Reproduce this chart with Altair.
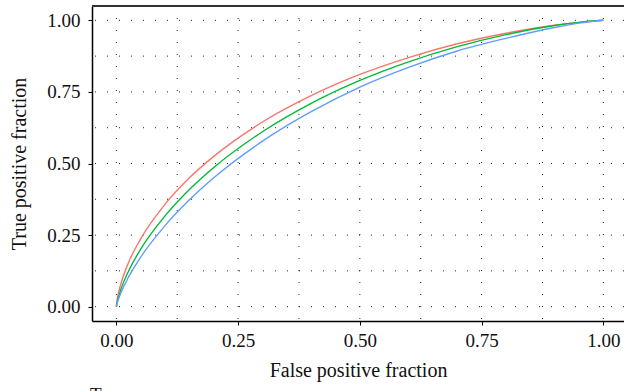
import altair as alt
import pandas as pd

# False positive fraction grid (read positions) and true positive fractions per curve
fpr = [0, 0.002, 0.005, 0.01, 0.025, 0.05, 0.1, 0.15, 0.2, 0.3, 0.4, 0.5, 0.6, 0.7, 0.8, 0.9, 0.95, 1.0]
tpr_red = [0, 0.028, 0.053, 0.084, 0.154, 0.237, 0.358, 0.450, 0.525, 0.645, 0.737, 0.811, 0.870, 0.918, 0.955, 0.983, 0.993, 1.0]
tpr_green = [0, 0.019, 0.037, 0.064, 0.124, 0.201, 0.317, 0.409, 0.486, 0.611, 0.710, 0.790, 0.855, 0.908, 0.950, 0.982, 0.993, 1.0]
tpr_blue = [0, 0.014, 0.029, 0.051, 0.103, 0.173, 0.283, 0.373, 0.450, 0.578, 0.681, 0.767, 0.836, 0.893, 0.937, 0.975, 0.990, 1.0]
series = ["Type 1", "Type 2", "Type 3"]
colors = ["#F8766D", "#00BA38", "#619CFF"]

grid_vals = [0, 0.125, 0.25, 0.375, 0.5, 0.625, 0.75, 0.875, 1.0]
tick_vals = [0, 0.25, 0.5, 0.75, 1.0]

rows = []
for name, vals in zip(series, [tpr_red, tpr_green, tpr_blue]):
    for f, t in zip(fpr, vals):
        rows.append({"fpr": f, "tpr": t, "series": name})
df = pd.DataFrame(rows)
grid_df = pd.DataFrame({"g": grid_vals})

FONT = "Liberation Serif"
W, H = 532, 315
xscale = alt.Scale(domain=[-0.05, 1.0424], nice=False, zero=False)
yscale = alt.Scale(domain=[-0.05, 1.05], nice=False, zero=False)

xaxis = alt.Axis(title="False positive fraction", values=tick_vals, format=".2f",
                 grid=False, tickSize=4, labelPadding=6, titlePadding=10)
yaxis = alt.Axis(title="True positive fraction", values=tick_vals, format=".2f",
                 grid=False, tickSize=4, labelPadding=8, titlePadding=17)

vgrid = alt.Chart(grid_df).mark_rule(color="#222222", strokeWidth=1, strokeDash=[1, 11]).encode(
    x=alt.X("g:Q", scale=xscale, axis=xaxis)
)
hgrid = alt.Chart(grid_df).mark_rule(color="#222222", strokeWidth=1, strokeDash=[1, 11]).encode(
    y=alt.Y("g:Q", scale=yscale, axis=yaxis)
)
top_border = alt.Chart(grid_df).mark_rule(color="#333333", strokeWidth=1.5).encode(
    x=alt.value(0), x2=alt.value(W), y=alt.value(0)
)

lines = alt.Chart(df).mark_line(strokeWidth=1.4, interpolate="monotone").encode(
    x=alt.X("fpr:Q", scale=xscale, axis=xaxis),
    y=alt.Y("tpr:Q", scale=yscale, axis=yaxis),
    color=alt.Color("series:N", scale=alt.Scale(domain=series, range=colors),
                    legend=alt.Legend(title="Type", orient="none", legendX=-2, legendY=380,
                                      direction="vertical", padding=0)),
    order=alt.Order("fpr:Q"),
)

chart = alt.layer(vgrid, hgrid, top_border, lines).properties(
    width=W, height=H,
    autosize=alt.AutoSizeParams(type="none"),
    padding={"left": 92, "top": 6, "right": 0, "bottom": 70},
).configure_view(
    stroke=None
).configure_axis(
    labelFont=FONT, titleFont=FONT, labelFontSize=19, titleFontSize=20,
    labelColor="#111111", titleColor="#111111", titleFontWeight="normal",
    domainColor="#000000", domainWidth=1.5, tickColor="#000000", tickWidth=1,
).configure_legend(
    titleFont=FONT, labelFont=FONT, titleFontSize=19, labelFontSize=16,
    titleColor="#111111", titleFontWeight="normal",
)

chart.save("out.html", embed_options={"renderer": "svg", "actions": False})
